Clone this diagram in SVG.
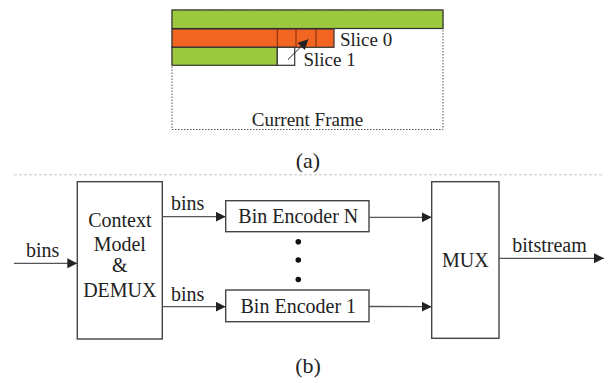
<svg xmlns="http://www.w3.org/2000/svg" width="612" height="383" viewBox="0 0 612 383" font-family="'Liberation Serif', 'Times New Roman', 'DejaVu Serif', serif">
<style>
text{font-family:"Liberation Serif","Times New Roman","DejaVu Serif",serif;fill:#222}
.t19{font-size:19px}
.t20{font-size:20px}
.box{fill:#fff;stroke:#444;stroke-width:1.4}
.ln{stroke:#555;stroke-width:1.3;fill:none}
.mid{text-anchor:middle}
</style>
<defs>
<marker id="ah" viewBox="0 0 10 10" refX="10" refY="5" markerWidth="10" markerHeight="10" markerUnits="userSpaceOnUse" orient="auto"><path d="M0,0 L10,5 L0,10 z" fill="#222"/></marker>
</defs>
<g id="frame">
<rect x="172" y="10" width="271" height="119.5" fill="#fff" stroke="#555" stroke-width="1" stroke-dasharray="1.5,1.5"/>
<rect x="172" y="10" width="271" height="18.5" fill="#9dc93f" stroke="#333" stroke-width="1.2"/>
<rect x="172" y="29" width="162" height="18.3" fill="#f26522" stroke="#333" stroke-width="1.2"/>
<line x1="277.3" y1="29" x2="277.3" y2="47.3" stroke="#7a2a0a" stroke-width="1"/>
<line x1="296" y1="29" x2="296" y2="47.3" stroke="#7a2a0a" stroke-width="1"/>
<line x1="316" y1="29" x2="316" y2="47.3" stroke="#7a2a0a" stroke-width="1"/>
<rect x="172" y="47.3" width="105.3" height="18" fill="#9dc93f" stroke="#333" stroke-width="1.2"/>
<rect x="277.3" y="47.3" width="17.4" height="18" fill="#fff" stroke="#333" stroke-width="1.2"/>
<line x1="288" y1="59.5" x2="308.3" y2="39.3" stroke="#222" stroke-width="1" marker-end="url(#ah)"/>
<text class="t19" x="340" y="46">Slice 0</text>
<text class="t19" x="303.5" y="65.5">Slice 1</text>
<text class="t19 mid" x="307.5" y="126">Current Frame</text>
</g>
<text class="t20 mid" x="308" y="167.5" style="font-size:22px">(a)</text>
<line x1="14" y1="174.8" x2="603" y2="174.8" stroke="#c8c8c8" stroke-width="1" stroke-dasharray="3,2"/>
<g id="ctx">
<rect class="box" x="77.3" y="181.7" width="85" height="157.3"/>
<text class="t20 mid" x="119.8" y="226.7">Context</text>
<text class="t20 mid" x="119.8" y="251">Model</text>
<text class="t20 mid" x="119.8" y="271.7">&amp;</text>
<text class="t20 mid" x="119.8" y="296.7">DEMUX</text>
</g>
<g id="encN">
<rect class="box" x="225.7" y="200.7" width="143.3" height="31"/>
<text class="t20 mid" x="298.3" y="223.3">Bin Encoder N</text>
</g>
<g id="enc1">
<rect class="box" x="225.7" y="290" width="143.3" height="31.7"/>
<text class="t20 mid" x="298.3" y="313">Bin Encoder 1</text>
</g>
<g id="dots" fill="#111">
<circle cx="298.3" cy="241.7" r="2.8"/>
<circle cx="298.3" cy="260" r="2.8"/>
<circle cx="298.3" cy="279.5" r="2.8"/>
</g>
<g id="mux">
<rect class="box" x="431.7" y="181.7" width="67.3" height="156.6"/>
<text class="t20 mid" x="465.3" y="266.7">MUX</text>
</g>
<g id="connectors">
<line class="ln" x1="14" y1="263.3" x2="77.3" y2="263.3" marker-end="url(#ah)"/>
<line class="ln" x1="162.3" y1="216.7" x2="225.7" y2="216.7" marker-end="url(#ah)"/>
<line class="ln" x1="162.3" y1="306.7" x2="225.7" y2="306.7" marker-end="url(#ah)"/>
<line class="ln" x1="369" y1="217.3" x2="431.7" y2="217.3" marker-end="url(#ah)"/>
<line class="ln" x1="369" y1="306.5" x2="431.7" y2="306.7" marker-end="url(#ah)"/>
<line class="ln" x1="499" y1="258.3" x2="604" y2="258.3" marker-end="url(#ah)"/>
<text class="t20" x="26" y="256.7">bins</text>
<text class="t20" x="171" y="210">bins</text>
<text class="t20" x="171" y="301">bins</text>
<text class="t20" x="512.3" y="252.3">bitstream</text>
</g>
<text class="t20 mid" x="308" y="373" style="font-size:22px">(b)</text>
</svg>
